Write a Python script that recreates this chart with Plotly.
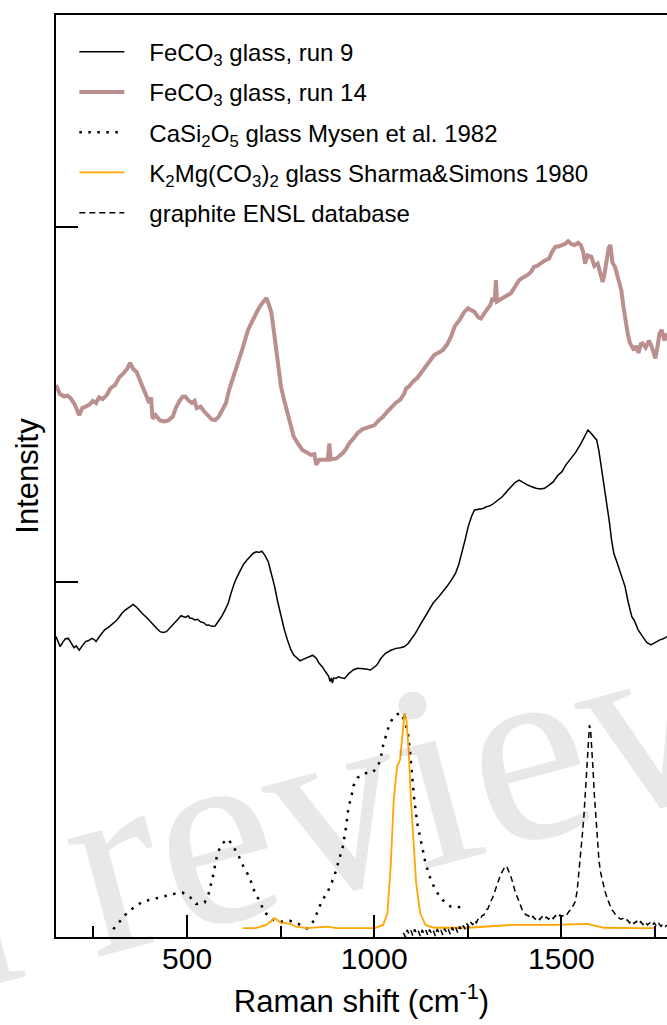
import plotly.graph_objects as go

# Raman shift (cm-1) and stacked, offset intensities for each spectrum
run9_x = [150, 156, 161, 168, 175, 183, 190, 198, 204, 212, 220, 229, 237, 246, 252, 257, 265, 272, 280, 290,
          303, 310, 318, 326, 334, 343, 350, 356, 364, 371, 382, 394, 402, 411, 420, 428, 436, 445, 453, 462,
          470, 478, 484, 490, 496, 503, 508, 513, 520, 528, 536, 545, 552, 558, 566, 575, 584, 592, 600, 610,
          618, 626, 634, 643, 651, 660, 668, 677, 685, 692, 700, 708, 717, 725, 734, 742, 751, 760, 768, 777,
          785, 794, 802, 810, 819, 828, 836, 845, 853, 862, 870, 878, 882, 886, 888, 892, 898, 904, 912, 921,
          932, 944, 955, 967, 978, 990, 1000, 1007, 1018, 1030, 1043, 1058, 1070, 1081, 1090, 1098, 1110, 1120,
          1132, 1143, 1157, 1172, 1183, 1194, 1206, 1217, 1226, 1234, 1243, 1251, 1260, 1268, 1280, 1291, 1300,
          1310, 1319, 1330, 1342, 1354, 1365, 1376, 1387, 1398, 1410, 1421, 1432, 1444, 1455, 1466, 1478, 1490,
          1501, 1512, 1523, 1538, 1552, 1562, 1571, 1578, 1586, 1594, 1600, 1607, 1614, 1621, 1628, 1634, 1640,
          1647, 1652, 1660, 1665, 1670, 1678, 1688, 1694, 1705, 1717, 1728, 1739, 1750, 1763, 1772, 1782]
run9_y = [0.846, 0.83, 0.818, 0.83, 0.84, 0.841, 0.83, 0.815, 0.82, 0.808, 0.82, 0.832, 0.835, 0.841, 0.838,
          0.832, 0.845, 0.855, 0.865, 0.872, 0.883, 0.89, 0.9, 0.912, 0.92, 0.926, 0.932, 0.937, 0.93, 0.921,
          0.91, 0.898, 0.888, 0.879, 0.868, 0.86, 0.858, 0.86, 0.87, 0.879, 0.888, 0.898, 0.905, 0.902, 0.9,
          0.905, 0.898, 0.898, 0.893, 0.895, 0.888, 0.885, 0.878, 0.879, 0.875, 0.876, 0.888, 0.902, 0.918,
          0.94, 0.97, 0.996, 1.015, 1.034, 1.05, 1.062, 1.072, 1.081, 1.085, 1.083, 1.087, 1.075, 1.057, 1.025,
          0.987, 0.945, 0.902, 0.865, 0.837, 0.81, 0.794, 0.785, 0.778, 0.782, 0.785, 0.79, 0.794, 0.785, 0.771,
          0.76, 0.747, 0.735, 0.72, 0.73, 0.715, 0.73, 0.728, 0.733, 0.73, 0.728, 0.742, 0.752, 0.757, 0.757,
          0.755, 0.752, 0.76, 0.766, 0.785, 0.799, 0.807, 0.813, 0.815, 0.818, 0.826, 0.837, 0.855, 0.874, 0.895,
          0.916, 0.94, 0.958, 0.972, 0.987, 1.005, 1.024, 1.05, 1.081, 1.12, 1.156, 1.185, 1.203, 1.205, 1.207,
          1.212, 1.215, 1.221, 1.23, 1.24, 1.255, 1.268, 1.28, 1.287, 1.28, 1.273, 1.268, 1.264, 1.262, 1.264,
          1.272, 1.282, 1.3, 1.31, 1.33, 1.344, 1.365, 1.39, 1.41, 1.428, 1.42, 1.409, 1.4, 1.37, 1.32, 1.27,
          1.231, 1.17, 1.118, 1.08, 1.06, 1.043, 1.015, 1.0, 0.987, 0.945, 0.902, 0.893, 0.865, 0.846, 0.83,
          0.823, 0.83, 0.837, 0.84, 0.846]

run14_x = [150, 160, 172, 180, 189, 200, 212, 220, 229, 240, 248, 257, 265, 275, 286, 295, 308, 318, 331, 340,
           348, 356, 365, 374, 382, 390, 399, 404, 408, 416, 428, 439, 450, 462, 470, 479, 488, 496, 505, 513,
           520, 526, 536, 546, 558, 566, 575, 584, 592, 598, 604, 612, 621, 630, 638, 646, 655, 663, 672, 680,
           689, 697, 706, 712, 719, 725, 729, 735, 740, 746, 751, 760, 768, 776, 785, 796, 808, 820, 831, 840,
           845, 853, 865, 876, 880, 884, 899, 916, 925, 933, 945, 956, 968, 979, 990, 1001, 1012, 1024, 1035,
           1046, 1058, 1069, 1080, 1085, 1092, 1104, 1115, 1126, 1137, 1148, 1160, 1170, 1183, 1195, 1205, 1215,
           1228, 1240, 1251, 1260, 1268, 1278, 1285, 1293, 1302, 1310, 1316, 1322, 1325, 1328, 1342, 1352, 1365,
           1375, 1387, 1398, 1410, 1420, 1427, 1435, 1444, 1455, 1467, 1475, 1484, 1492, 1501, 1510, 1518, 1526,
           1535, 1545, 1552, 1558, 1563, 1570, 1580, 1588, 1597, 1605, 1610, 1614, 1620, 1626, 1631, 1636, 1643,
           1650, 1660, 1665, 1671, 1677, 1683, 1690, 1694, 1700, 1706, 1712, 1717, 1725, 1734, 1742, 1751, 1757,
           1762, 1768, 1775, 1782]
run14_y = [1.555, 1.53, 1.522, 1.525, 1.518, 1.50, 1.47, 1.49, 1.494, 1.50, 1.51, 1.504, 1.52, 1.515, 1.527,
           1.545, 1.555, 1.575, 1.589, 1.60, 1.617, 1.60, 1.592, 1.57, 1.55, 1.53, 1.504, 1.52, 1.46, 1.47,
           1.455, 1.452, 1.455, 1.466, 1.49, 1.508, 1.522, 1.522, 1.51, 1.504, 1.51, 1.49, 1.494, 1.48, 1.466,
           1.458, 1.456, 1.465, 1.48, 1.49, 1.504, 1.54, 1.569, 1.59, 1.617, 1.65, 1.682, 1.71, 1.73, 1.75,
           1.766, 1.78, 1.792, 1.80, 1.78, 1.76, 1.73, 1.68, 1.635, 1.59, 1.55, 1.51, 1.476, 1.44, 1.409, 1.39,
           1.372, 1.365, 1.358, 1.36, 1.33, 1.344, 1.345, 1.344, 1.39, 1.345, 1.348, 1.363, 1.375, 1.39, 1.405,
           1.42, 1.43, 1.434, 1.44, 1.442, 1.455, 1.466, 1.48, 1.494, 1.505, 1.513, 1.53, 1.545, 1.55, 1.565,
           1.575, 1.59, 1.606, 1.625, 1.639, 1.645, 1.653, 1.67, 1.691, 1.72, 1.738, 1.76, 1.771, 1.765, 1.761,
           1.745, 1.742, 1.755, 1.766, 1.78, 1.80, 1.79, 1.85, 1.79, 1.799, 1.805, 1.813, 1.83, 1.85, 1.858,
           1.865, 1.875, 1.888, 1.89, 1.897, 1.905, 1.911, 1.93, 1.944, 1.945, 1.949, 1.952, 1.96, 1.952, 1.949,
           1.955, 1.949, 1.93, 1.897, 1.92, 1.916, 1.89, 1.897, 1.87, 1.845, 1.86, 1.90, 1.94, 1.949, 1.90,
           1.888, 1.86, 1.822, 1.78, 1.738, 1.70, 1.673, 1.66, 1.653, 1.665, 1.645, 1.67, 1.672, 1.66, 1.68,
           1.66, 1.63, 1.665, 1.70, 1.71, 1.68, 1.70]

casi_x = [303, 322, 339, 359, 382, 411, 437, 462, 488, 507, 524, 547, 558, 570, 581, 592, 610, 624, 638, 651,
          666, 680, 695, 706, 729, 752, 774, 797, 820, 839, 859, 876, 893, 905, 916, 925, 931, 939, 944, 956,
          973, 995, 1010, 1018, 1024, 1032, 1041, 1052, 1069, 1081, 1090, 1096, 1101, 1107, 1115, 1126, 1137,
          1151, 1166, 1183, 1205, 1234]
casi_y = [0.022, 0.046, 0.067, 0.084, 0.10, 0.107, 0.115, 0.121, 0.125, 0.114, 0.093, 0.097, 0.123, 0.175,
          0.234, 0.262, 0.276, 0.254, 0.228, 0.198, 0.17, 0.128, 0.099, 0.071, 0.048, 0.043, 0.046, 0.037,
          0.024, 0.046, 0.099, 0.128, 0.17, 0.217, 0.254, 0.311, 0.365, 0.395, 0.425, 0.449, 0.461, 0.463,
          0.48, 0.508, 0.541, 0.569, 0.60, 0.62, 0.632, 0.611, 0.574, 0.517, 0.451, 0.386, 0.32, 0.264, 0.208,
          0.161, 0.128, 0.104, 0.085, 0.084]

k2mg_x = [649, 683, 712, 734, 751, 774, 791, 820, 876, 899, 1001, 1024, 1035, 1044, 1052, 1061, 1069, 1075,
          1081, 1086, 1092, 1098, 1104, 1112, 1123, 1137, 1160, 1251, 1365, 1478, 1569, 1614, 1705, 1750]
k2mg_y = [0.025, 0.025, 0.034, 0.053, 0.040, 0.038, 0.029, 0.025, 0.029, 0.025, 0.025, 0.034, 0.066, 0.198,
          0.386, 0.48, 0.499, 0.574, 0.63, 0.611, 0.527, 0.386, 0.273, 0.151, 0.066, 0.034, 0.026, 0.026,
          0.034, 0.034, 0.037, 0.026, 0.025, 0.025]

graphite_x = [1078, 1083, 1088, 1093, 1098, 1103, 1108, 1113, 1118, 1123, 1128, 1133, 1138, 1143, 1148, 1153,
              1158, 1163, 1168, 1173, 1178, 1183, 1188, 1193, 1198, 1203, 1208, 1213, 1218, 1223, 1228, 1233,
              1238, 1243, 1248, 1253, 1258, 1263, 1268, 1273, 1278, 1283, 1288, 1293, 1298, 1304, 1310, 1316,
              1322, 1328, 1334, 1340, 1345, 1350, 1355, 1360, 1365, 1371, 1377, 1382, 1388, 1394, 1400, 1406,
              1412, 1418, 1424, 1430, 1436, 1442, 1448, 1454, 1460, 1466, 1472, 1478, 1484, 1490, 1496, 1502,
              1508, 1514, 1520, 1526, 1532, 1537, 1542, 1547, 1552, 1556, 1560, 1564, 1568, 1572, 1575, 1578,
              1581, 1584, 1588, 1592, 1596, 1600, 1604, 1608, 1612, 1616, 1622, 1628, 1634, 1640, 1646, 1652,
              1658, 1664, 1670, 1676, 1682, 1688, 1694, 1700, 1706, 1712, 1718, 1724, 1730, 1736, 1742, 1748,
              1754, 1760, 1766, 1772, 1778, 1782]
graphite_y = [0.012, 0.0, 0.02, 0.008, 0.018, 0.004, 0.022, 0.01, 0.017, 0.002, 0.02, 0.009, 0.019, 0.005,
              0.021, 0.01, 0.018, 0.003, 0.022, 0.012, 0.02, 0.006, 0.024, 0.013, 0.022, 0.008, 0.027, 0.016,
              0.026, 0.012, 0.03, 0.02, 0.032, 0.022, 0.038, 0.028, 0.042, 0.034, 0.046, 0.04, 0.052, 0.05, 0.06,
              0.062, 0.075, 0.08, 0.098, 0.11, 0.128, 0.15, 0.165, 0.18, 0.192, 0.2, 0.196, 0.185, 0.17, 0.15,
              0.125, 0.113, 0.095, 0.08, 0.068, 0.062, 0.06, 0.052, 0.058, 0.05, 0.056, 0.049, 0.057, 0.05, 0.056,
              0.05, 0.058, 0.052, 0.06, 0.054, 0.062, 0.058, 0.064, 0.062, 0.072, 0.078, 0.09, 0.10, 0.13, 0.18,
              0.24, 0.29, 0.34, 0.41, 0.49, 0.56, 0.597, 0.58, 0.54, 0.48, 0.40, 0.34, 0.27, 0.22, 0.185, 0.165,
              0.145, 0.13, 0.11, 0.092, 0.078, 0.07, 0.06, 0.055, 0.05, 0.052, 0.045, 0.048, 0.04, 0.046, 0.038,
              0.044, 0.036, 0.043, 0.035, 0.042, 0.034, 0.04, 0.032, 0.04, 0.03, 0.038, 0.03, 0.037, 0.03, 0.034]

series_names = [
    "FeCO<sub>3</sub> glass, run 9",
    "FeCO<sub>3</sub> glass, run 14",
    "CaSi<sub>2</sub>O<sub>5</sub> glass Mysen et al. 1982",
    "K<sub>2</sub>Mg(CO<sub>3</sub>)<sub>2</sub> glass Sharma&Simons 1980",
    "graphite ENSL database",
]

x_range = [150, 1782]
y_range = [0, 2.597]
x_tickvals = [500, 1000, 1500]
x_ticktext = ["500", "1000", "1500"]

FONT = "Liberation Sans, Arial, Helvetica, sans-serif"
GAP = "\u00a0\u00a0\u00a0"  # extra room between legend sample and its label

fig = go.Figure()
fig.add_trace(go.Scatter(x=run9_x, y=run9_y, name=GAP + series_names[0], mode="lines",
                         line=dict(color="black", width=1.5), legendgroup="a"))
fig.add_trace(go.Scatter(x=run14_x, y=run14_y, name=GAP + series_names[1], mode="lines",
                         line=dict(color="#bc8f8f", width=4), legendgroup="b"))
fig.add_trace(go.Scatter(x=casi_x, y=casi_y, name=GAP + series_names[2], mode="lines",
                         line=dict(color="black", width=2.5, dash="2.5px,6.5px"), legendgroup="c"))
fig.add_trace(go.Scatter(x=k2mg_x, y=k2mg_y, name=GAP + series_names[3], mode="lines",
                         line=dict(color="#ffa500", width=1.8), legendgroup="d"))
fig.add_trace(go.Scatter(x=graphite_x, y=graphite_y, name=GAP + series_names[4], mode="lines",
                         line=dict(color="black", width=1.5, dash="6px,4px"), legendgroup="e"))

fig.update_layout(
    width=667, height=1025,
    margin=dict(l=55.5, r=0, t=15, b=88),
    paper_bgcolor="white", plot_bgcolor="white",
    font=dict(family=FONT, color="black"),
    showlegend=True,
    legend=dict(x=0.03, y=0.984, xanchor="left", yanchor="top", bgcolor="rgba(0,0,0,0)",
                font=dict(size=24, family=FONT), tracegroupgap=6, itemwidth=45),
    xaxis=dict(range=x_range, tickvals=x_tickvals, ticktext=x_ticktext, ticks="inside", ticklen=22,
               tickwidth=2, tickcolor="black", showline=True, linewidth=2, linecolor="black",
               mirror=True, showgrid=False, zeroline=False, tickfont=dict(size=30),
               ticklabelstandoff=-6,
               minor=dict(tickvals=[250, 750, 1250, 1750], ticks="inside", ticklen=11, tickwidth=2,
                          tickcolor="black", showgrid=False),
               title=dict(text="Raman shift (cm<sup>-1</sup>)", font=dict(size=31), standoff=16)),
    xaxis2=dict(range=x_range, overlaying="x", side="top", anchor="y",
                tickvals=[250, 500, 750, 1000, 1250, 1500, 1750], ticks="inside", ticklen=11, tickwidth=2,
                tickcolor="black", showticklabels=False, showline=False, showgrid=False, zeroline=False),
    yaxis=dict(range=y_range, tickvals=[0, 1, 2], ticks="inside", ticklen=22, tickwidth=2,
               tickcolor="black", showticklabels=False, showline=True, linewidth=2, linecolor="black",
               showgrid=False, zeroline=False,
               title=dict(text="Intensity", font=dict(size=31), standoff=6)),
    yaxis2=dict(range=y_range, overlaying="y", side="right", anchor="x",
                tickvals=[0, 1, 2], ticks="inside", ticklen=15, tickwidth=2, tickcolor="black",
                showticklabels=False, showline=False, showgrid=False, zeroline=False),
)

# faint diagonal watermark text
fig.add_annotation(text="In review", xref="paper", yref="paper", x=0.366, y=0.132,
                   xanchor="center", yanchor="middle", showarrow=False, textangle=-15,
                   font=dict(family="Liberation Serif, Times New Roman, serif", size=265,
                             color="rgba(0,0,0,0.09)"))

fig.write_html("out.html")
